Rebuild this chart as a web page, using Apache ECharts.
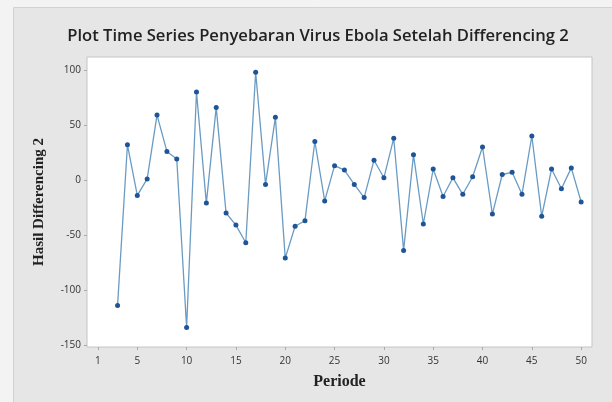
<!DOCTYPE html>
<html><head><meta charset="utf-8">
<script src="https://cdn.jsdelivr.net/npm/echarts@6/dist/echarts.min.js"></script>
<style>html,body{margin:0;padding:0;background:#f3f3f3}#c{width:612px;height:402px}</style>
</head><body><div id="c"></div>
<script>
const periods = [3,4,5,6,7,8,9,10,11,12,13,14,15,16,17,18,19,20,21,22,23,24,25,26,27,28,29,30,31,32,33,34,35,36,37,38,39,40,41,42,43,44,45,46,47,48,49,50];
const values = [-114,32,-14,1,59,26,19,-134,80,-21,66,-30,-41,-57,98,-4,57,-71,-42,-37,35,-19,13,9,-4,-16,18,2,38,-64,23,-40,10,-15,2,-13,3,30,-31,5,7,-13,40,-33,10,-8,11,-20];
const xTicks = [1,5,10,15,20,25,30,35,40,45,50];
const yTicks = [-150,-100,-50,0,50,100];

const chart = echarts.init(document.getElementById('c'));
chart.setOption({
  backgroundColor:'#f3f3f3',
  animation:false,
  graphic:[{type:'rect',z:-10,silent:true,shape:{x:13.5,y:7.5,width:610,height:400},
    style:{fill:'#e6e6e6',stroke:'#d2d2d2',lineWidth:1}}],
  title:{text:'Plot Time Series Penyebaran Virus Ebola Setelah Differencing 2',left:313,top:23,textAlign:'center',
    textStyle:{fontFamily:'Open Sans',fontSize:16.6,fontWeight:600,color:'#222'}},
  grid:{left:87,right:20,top:57,bottom:55,show:true,backgroundColor:'#fff',borderColor:'#c4c4c4',borderWidth:1},
  xAxis:{type:'value',min:-0.1,max:51.1,
    name:'Periode',nameLocation:'middle',nameGap:27,
    nameTextStyle:{fontFamily:'Liberation Serif',fontWeight:'bold',fontSize:16,color:'#222'},
    axisLine:{show:false,onZero:false},splitLine:{show:false},
    axisTick:{show:true,length:3,lineStyle:{color:'#aaa'},customValues:xTicks},
    axisLabel:{customValues:xTicks,fontFamily:'Open Sans',fontSize:10,color:'#333',margin:9}},
  yAxis:{type:'value',min:-151.8,max:111.8,
    name:'Hasil Differencing 2',nameLocation:'middle',nameGap:40,
    nameTextStyle:{fontFamily:'Liberation Serif',fontWeight:'bold',fontSize:15,color:'#222'},
    axisLine:{show:false,onZero:false},splitLine:{show:false},
    axisTick:{show:true,length:3,lineStyle:{color:'#aaa'},customValues:yTicks},
    axisLabel:{customValues:yTicks,fontFamily:'Open Sans',fontSize:10,color:'#333',margin:6}},
  series:[{type:'line',data:periods.map((p,i)=>[p,values[i]]),
    symbol:'circle',symbolSize:5,
    lineStyle:{color:'#6a9bc3',width:1.3},
    itemStyle:{color:'#1f5496'}}]
});
</script></body></html>
